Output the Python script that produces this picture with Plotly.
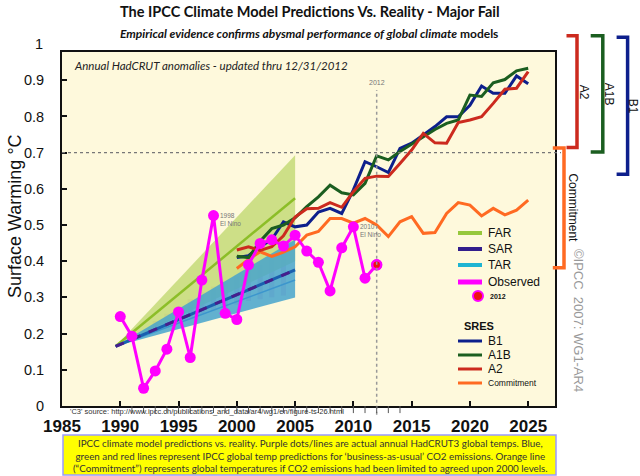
import plotly.graph_objects as go

# observed annual HadCRUT anomalies
obs_years = list(range(1990, 2013))
obs_vals = [0.247, 0.193, 0.049, 0.097, 0.157, 0.26, 0.134, 0.348, 0.526, 0.256,
            0.239, 0.39, 0.449, 0.459, 0.442, 0.472, 0.428, 0.397, 0.318, 0.437,
            0.495, 0.353, 0.39]

# AR4 projections
model_years = list(range(2000, 2026))
b1 = [0.41, 0.415, 0.44, 0.46, 0.509, 0.495, 0.5, 0.536, 0.546, 0.532, 0.597, 0.675, 0.661,
      0.645, 0.712, 0.726, 0.749, 0.772, 0.799, 0.799, 0.831, 0.884, 0.864, 0.864, 0.912, 0.89]
a1b = [0.414, 0.41, 0.455, 0.49, 0.5, 0.52, 0.551, 0.578, 0.61, 0.589, 0.583, 0.615, 0.691,
       0.68, 0.703, 0.724, 0.744, 0.764, 0.781, 0.79, 0.859, 0.855, 0.893, 0.902, 0.926, 0.933]
a2 = [0.431, 0.44, 0.43, 0.44, 0.47, 0.522, 0.545, 0.546, 0.562, 0.549, 0.592, 0.629, 0.635,
      0.634, 0.67, 0.707, 0.753, 0.727, 0.726, 0.783, 0.79, 0.799, 0.836, 0.875, 0.878, 0.924]
commitment = [0.38, 0.405, 0.426, 0.413, 0.425, 0.44, 0.472, 0.482, 0.518, 0.518, 0.505, 0.518,
              0.5, 0.468, 0.509, 0.523, 0.477, 0.479, 0.532, 0.562, 0.555, 0.525, 0.546, 0.528,
              0.541, 0.569]

# earlier assessment fans (start, end)
fan_years = [1989.6, 2005]
far_hi = [0.165, 0.693]
far_lo = [0.165, 0.40]
far_mid = [0.165, 0.574]
tar_hi = [0.165, 0.46]
tar_lo = [0.165, 0.30]
tar_mid = [0.165, 0.348]
sar_mid = [0.165, 0.376]

# SAR range bars
sar_years = list(range(1993, 2005))
sar_lo = [0.21, 0.22, 0.235, 0.245, 0.255, 0.265, 0.27, 0.28, 0.29, 0.295, 0.30, 0.305]
sar_hi = [0.235, 0.255, 0.275, 0.295, 0.315, 0.33, 0.345, 0.36, 0.375, 0.39, 0.405, 0.42]

# 2100 range brackets on the right
bracket_names = ["A2", "A1B", "B1", "Commitment"]
bracket_hi = [1.023, 1.023, 1.019, 0.713]
bracket_lo = [0.714, 0.702, 0.64, 0.382]
bracket_colors = ["#cc2a1e", "#1b5e20", "#0d1f8c", "#ff6a22"]

x_ticks = list(range(1985, 2030, 5))
y_ticks = [0, 0.1, 0.2, 0.3, 0.4, 0.5, 0.6, 0.7, 0.8, 0.9]

X_MIN, X_MAX = 1985, 2027.3
Y_TOP = 0.978
ML, MR, MT, MB = 62, 85, 52, 70
W, H = 640, 476
PW, PH = W - ML - MR, H - MT - MB


def px(x):
    return (x - ML) / PW


def py(y):
    return (H - MB - y) / PH


AX_FONT = "Liberation Sans, Arial, sans-serif"
CAL = "Lato, Carlito, Calibri, sans-serif"

fig = go.Figure()

fig.add_trace(go.Scatter(x=fan_years + fan_years[::-1], y=far_hi + far_lo[::-1], fill="toself",
                         fillcolor="rgba(196,218,120,0.85)", line=dict(width=0), mode="lines",
                         hoverinfo="skip"))
fig.add_trace(go.Scatter(x=fan_years, y=far_mid, mode="lines",
                         line=dict(color="rgb(140,190,40)", width=2.5)))
fig.add_trace(go.Scatter(x=fan_years + fan_years[::-1], y=tar_hi + tar_lo[::-1], fill="toself",
                         fillcolor="rgba(70,165,205,0.85)", line=dict(width=0), mode="lines",
                         hoverinfo="skip"))
fig.add_trace(go.Bar(x=sar_years, y=[h - l for h, l in zip(sar_hi, sar_lo)], base=sar_lo,
                     width=0.45, marker=dict(color="rgba(215,150,195,0.6)", line=dict(width=0))))
fig.add_trace(go.Scatter(x=fan_years, y=tar_mid, mode="lines",
                         line=dict(color="rgb(60,150,205)", width=1.5)))
fig.add_trace(go.Scatter(x=fan_years, y=sar_mid, mode="lines",
                         line=dict(color="rgb(25,95,175)", width=3)))
fig.add_trace(go.Scatter(x=fan_years, y=sar_mid, mode="lines",
                         line=dict(color="rgb(70,30,140)", width=3, dash="dash")))

for vals, col in [(commitment, "#ff6a22"), (b1, "#0d1f8c"), (a1b, "#1b5e20"), (a2, "#cc2a1e")]:
    fig.add_trace(go.Scatter(x=model_years, y=vals, mode="lines", line=dict(color=col, width=3)))

fig.add_trace(go.Scatter(x=obs_years, y=obs_vals, mode="lines+markers",
                         line=dict(color="#ff00ff", width=3),
                         marker=dict(color="#ff00ff", size=11)))
fig.add_trace(go.Scatter(x=obs_years[-1:], y=obs_vals[-1:], mode="markers",
                         marker=dict(color="#ee1111", size=9, line=dict(color="#ff00ff", width=2.5))))

shapes = []
annos = []


def note(x, y, text, size, color="#111", family=AX_FONT, xanchor="center", **kw):
    annos.append(dict(x=x, y=y, xref="paper", yref="paper", text=text, showarrow=False,
                      xanchor=xanchor, yanchor="middle",
                      font=dict(family=family, size=size, color=color), **kw))


# reference lines
shapes.append(dict(type="line", xref="paper", yref="y", x0=0, x1=px(561), y0=0.7, y1=0.7,
                   line=dict(color="#777", width=1.2, dash="dot")))
shapes.append(dict(type="line", xref="x", yref="paper", x0=2012, x1=2012, y0=-0.025,
                   y1=0.873 / Y_TOP, line=dict(color="#999", width=1.5, dash="dot")))
annos.append(dict(x=2012, y=0.895 / Y_TOP, xref="x", yref="paper", text="2012", showarrow=False,
                  yanchor="middle", font=dict(family=AX_FONT, size=7, color="#777")))

# minor ticks below the axis
for yr in range(1991, 2015):
    shapes.append(dict(type="line", xref="x", yref="paper", x0=yr, x1=yr, y0=0, y1=-0.02,
                       line=dict(color="#555", width=1)))

# brackets
bx = [(566.5, 577, 584), (590.7, 602.8, 609), (616.6, 627.6, 633), (552.8, 564, 573.4)]
for name, hi, lo, col, (x0, x1, xl) in zip(bracket_names, bracket_hi, bracket_lo, bracket_colors, bx):
    yh, yl = hi / Y_TOP, lo / Y_TOP
    shapes.append(dict(type="path", xref="paper", yref="paper",
                       path=f"M {px(x0)} {yh} L {px(x1)} {yh} L {px(x1)} {yl} L {px(x0)} {yl}",
                       line=dict(color=col, width=3.5)))
    note(px(xl), (yh + yl) / 2, name, 12, textangle=90)

note(px(579), py(320), "©IPCC  2007: WG1-AR4", 13, color="#999", textangle=90)

# El Nino notes
annos.append(dict(x=1997.9, y=0.526, xref="x", yref="y", text="1998<br>El Nino", showarrow=False,
                  xanchor="left", yanchor="top", yshift=6, xshift=6, align="left",
                  font=dict(family=AX_FONT, size=6.5, color="#777")))
annos.append(dict(x=2010, y=0.495, xref="x", yref="y", text="2010<br>El Nino", showarrow=False,
                  xanchor="left", yanchor="top", yshift=6, xshift=5, align="left",
                  font=dict(family=AX_FONT, size=6.5, color="#777")))

# in-plot legend
legend_items = [("FAR", "rgb(150,200,60)", 233, 4, 12), ("SAR", "rgb(50,30,140)", 249, 4, 12),
                ("TAR", "rgb(30,180,210)", 265, 4, 12), ("Observed", "#ff00ff", 282, 5, 12),
                ("B1", "#0d1f8c", 341, 3, 12), ("A1B", "#1b5e20", 355, 3, 12),
                ("A2", "#cc2a1e", 369, 3, 12), ("Commitment", "#ff6a22", 383, 3, 8.5)]
for name, col, yy, lw, fs in legend_items:
    shapes.append(dict(type="line", xref="paper", yref="paper", x0=px(458), x1=px(482),
                       y0=py(yy), y1=py(yy), line=dict(color=col, width=lw)))
    note(px(486), py(yy), name, fs, xanchor="left")
shapes.append(dict(type="circle", xref="paper", yref="paper", x0=px(473), x1=px(483),
                   y0=py(301), y1=py(291), fillcolor="#ee1111", line=dict(color="#ff00ff", width=2)))
note(px(488), py(296), "<b>2012</b>", 7, xanchor="left")
note(px(462), py(326), "<b>SRES</b>", 11, xanchor="left")

# titles and notes
note(px(310), py(12), "<b>The IPCC Climate Model Predictions Vs. Reality - Major Fail</b>", 14.5,
     family=CAL)
note(px(309), py(33),
     "<b><i>Empirical evidence confirms abysmal performance of global climate</i> models</b>", 12,
     family=CAL)
note(px(72), py(66), "<i>Annual HadCRUT anomalies - updated thru 12/31/2012</i>", 11.5,
     color="#222", family=CAL, xanchor="left")
note(0, 1 / Y_TOP, "1", 14.5, xanchor="right", xshift=-17)
note(px(15), py(216), "Surface Warming °C", 18, textangle=-90)
note(px(68), py(411.5),
     "'C3' source: http://www.ipcc.ch/publications_and_data/ar4/wg1/en/figure-ts-26.html", 7.5,
     color="#333", xanchor="left")

shapes.append(dict(type="rect", xref="paper", yref="paper", x0=px(63), x1=px(556), y0=py(475),
                   y1=py(435), fillcolor="#ffff00", line=dict(color="#9a9aff", width=1.5)))
note(px(310), py(455.5),
     "IPCC climate model predictions vs. reality. Purple dots/lines are actual annual HadCRUT3 global temps. Blue,<br>"
     "green and red lines represent IPCC global temp predictions for ‘business-as-usual’ CO2 emissions. Orange line<br>"
     "(“Commitment”) represents global temperatures if CO2 emissions had been limited to agreed upon 2000 levels.",
     9.8, color="#333", family=CAL)

fig.update_layout(
    width=W, height=H, margin=dict(l=ML, r=MR, t=MT, b=MB, autoexpand=False),
    paper_bgcolor="white", plot_bgcolor="#fef9dc", showlegend=False,
    shapes=shapes, annotations=annos, barmode="overlay",
    xaxis=dict(range=[X_MIN, X_MAX], tickvals=x_ticks, ticks="inside", ticklen=5, tickwidth=1.5,
               tickcolor="#111", showgrid=False, zeroline=False, showline=True, linecolor="#111",
               linewidth=2, mirror=True, automargin=False,
               tickfont=dict(family=AX_FONT, size=17, color="#111", weight="bold"),
               ticklabelstandoff=4),
    yaxis=dict(range=[0, Y_TOP], tickvals=y_ticks, ticktext=[str(v) for v in y_ticks],
               ticks="inside", ticklen=5, tickwidth=1.5, tickcolor="#111", showgrid=False,
               zeroline=False, showline=True, linecolor="#111", linewidth=2, mirror=True,
               automargin=False,
               tickfont=dict(family=AX_FONT, size=14.5, color="#111"), ticklabelstandoff=13),
)

fig.write_html("out.html", config={"displayModeBar": False},
               post_script="document.body.style.margin='0';")
